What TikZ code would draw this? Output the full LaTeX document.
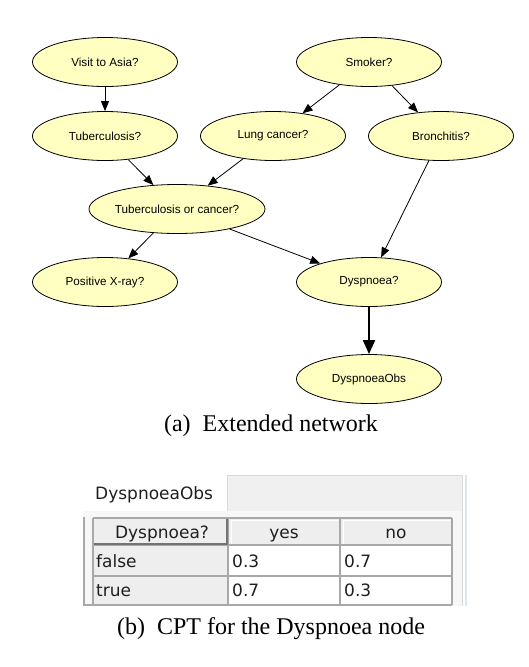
\documentclass[tikz,border=0pt]{standalone}
\usepackage{fontspec}
\setmainfont{Liberation Serif}
\newfontfamily\labelfont{Liberation Sans}
\newfontfamily\cptfont{DejaVu Sans}
\usetikzlibrary{arrows.meta,shapes.geometric}

\definecolor{nodefill}{HTML}{FFFFC2}
\definecolor{panelgrey}{HTML}{F0F0F0}
\definecolor{gridgrey}{HTML}{A8A8A8}
\definecolor{cellgrey}{HTML}{EEEEEE}
\definecolor{tabblue}{HTML}{DCE6F2}

\tikzset{
  bnode/.style={ellipse, draw, line width=0.8pt, fill=nodefill,
    minimum width=145pt, minimum height=49pt, inner sep=0pt,
    font=\labelfont\fontsize{11.7}{13}\selectfont},
  cpttext/.style={font=\cptfont\fontsize{17}{20}\selectfont, text=black!88, inner sep=0pt},
  caption/.style={font=\fontsize{24}{28}\selectfont, inner sep=0pt}
}

\begin{document}
\begin{tikzpicture}[x=1pt, y=-1pt]
  \useasboundingbox (0,0) rectangle (528,667);

  % network
  \node[bnode] (asia) at (105,62) {Visit to Asia?};
  \node[bnode] (smoke) at (369,62) {Smoker?};
  \node[bnode] (tub) at (105,136) {Tuberculosis?};
  \node[bnode] (lung) at (273,136) {Lung cancer?};
  \node[bnode] (bronc) at (441,136) {Bronchitis?};
  \node[bnode] (either) at (177,209) {Tuberculosis or cancer?};
  \node[bnode] (xray) at (105,282) {Positive X-ray?};
  \node[bnode] (dysp) at (369,282) {Dyspnoea?};
  \node[bnode] (obs) at (369,379) {DyspnoeaObs};

  \begin{scope}[->, >={Triangle[length=10pt,width=8pt]}, line width=0.8pt]
    \draw (asia) -- (tub);
    \draw (smoke) -- (lung);
    \draw (smoke) -- (bronc);
    \draw (tub) -- (either);
    \draw (lung) -- (either);
    \draw (either) -- (xray);
    \draw (either) -- (dysp);
    \draw (bronc) -- (dysp);
    \draw[line width=2pt, >={Triangle[length=14pt,width=12pt]}] (dysp) -- (obs);
  \end{scope}

  \node[caption] (capa) at (271,426) {(a)\enspace Extended network};

  % CPT window
  \fill[panelgrey] (227,475) rectangle (462,511);
  \draw[black!15, line width=0.8pt] (227,511) -- (227,475) -- (462,475);
  \fill[black!3] (83,511) rectangle (462,606);
  \draw[black!15, line width=0.8pt] (462,475) -- (462,606);
  \draw[tabblue, line width=1.5pt] (466,475) -- (466,606);
  \node[cpttext, anchor=base west] (tab) at (95,499) {DyspnoeaObs};

  % table cells
  \fill[cellgrey] (93,518) rectangle (452,545);
  \fill[cellgrey] (93,545) rectangle (228,604);
  \fill[white] (228,545) rectangle (452,604);
  \draw[gridgrey, line width=1.5pt] (84,517) -- (84,606);
  \draw[gridgrey, line width=1.5pt] (93,518) -- (452,518);
  \draw[gridgrey, line width=2pt] (93,518) -- (93,604);
  \draw[gridgrey, line width=2pt] (93,545) -- (452,545);
  \draw[gridgrey, line width=2pt] (93,576) -- (452,576);
  \draw[gridgrey, line width=2pt] (84,605) -- (452,605);
  \draw[gridgrey, line width=2pt] (228,518) -- (228,605);
  \draw[gridgrey, line width=2pt] (340,518) -- (340,605);
  \draw[gridgrey, line width=2pt] (452,518) -- (452,605);
  \draw[black!55, line width=1.5pt] (94,544) -- (227,544) -- (227,519);
  \draw[white, line width=1pt] (231,544) -- (231,520) -- (338,520);
  \draw[white, line width=1pt] (343,544) -- (343,520) -- (450,520);

  \node[cpttext, anchor=base] (parent) at (162,538) {Dyspnoea?};
  \node[cpttext, anchor=base] (yes) at (284,538) {yes};
  \node[cpttext, anchor=base] (no) at (396,538) {no};
  \node[cpttext, anchor=base west] (rowf) at (96,567) {false};
  \node[cpttext, anchor=base west] (rowt) at (96,596) {true};
  \node[cpttext, anchor=base west] (fy) at (232,567) {0.3};
  \node[cpttext, anchor=base west] (fn) at (344,567) {0.7};
  \node[cpttext, anchor=base west] (ty) at (232,596) {0.7};
  \node[cpttext, anchor=base west] (tn) at (344,596) {0.3};

  \node[caption] (capb) at (271,629) {(b)\enspace CPT for the Dyspnoea node};
\end{tikzpicture}
\end{document}
